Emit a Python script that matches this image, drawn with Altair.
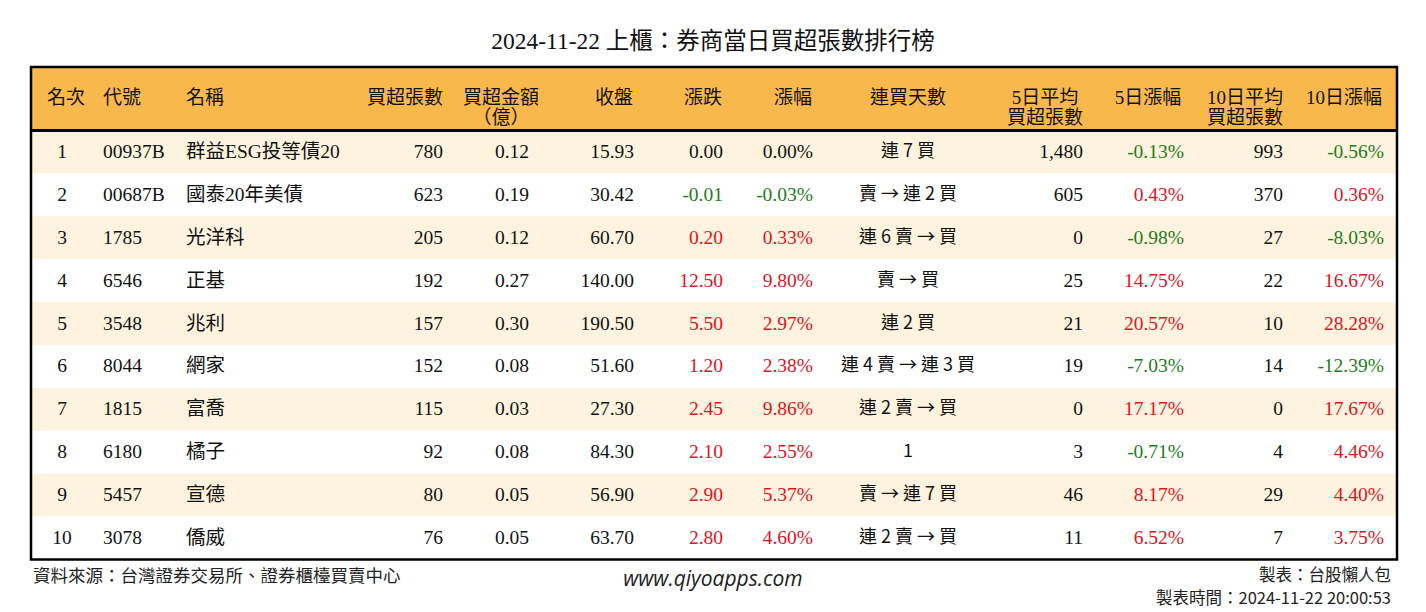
import altair as alt
import pandas as pd

# ---------------- data ----------------
title_text = "2024-11-22 上櫃：券商當日買超張數排行榜"
headers = ["名次", "代號", "名稱", "買超張數", "買超金額\n（億）", "收盤", "漲跌", "漲幅",
           "連買天數", "5日平均\n買超張數", "5日漲幅", "10日平均\n買超張數", "10日漲幅"]
rank = [1, 2, 3, 4, 5, 6, 7, 8, 9, 10]
code = ["00937B", "00687B", "1785", "6546", "3548", "8044", "1815", "6180", "5457", "3078"]
name = ["群益ESG投等債20", "國泰20年美債", "光洋科", "正基", "兆利", "網家", "富喬", "橘子", "宣德", "僑威"]
net_lots = [780, 623, 205, 192, 157, 152, 115, 92, 80, 76]
amount = [0.12, 0.19, 0.12, 0.27, 0.30, 0.08, 0.03, 0.08, 0.05, 0.05]
close = [15.93, 30.42, 60.70, 140.00, 190.50, 51.60, 27.30, 84.30, 56.90, 63.70]
change = [0.00, -0.01, 0.20, 12.50, 5.50, 1.20, 2.45, 2.10, 2.90, 2.80]
pct = [0.00, -0.03, 0.33, 9.80, 2.97, 2.38, 9.86, 2.55, 5.37, 4.60]
streak = ["連 7 買", "賣 → 連 2 買", "連 6 賣 → 買", "賣 → 買", "連 2 買",
          "連 4 賣 → 連 3 買", "連 2 賣 → 買", "1", "賣 → 連 7 買", "連 2 賣 → 買"]
avg5 = [1480, 605, 0, 25, 21, 19, 0, 3, 46, 11]
pct5 = [-0.13, 0.43, -0.98, 14.75, 20.57, -7.03, 17.17, -0.71, 8.17, 6.52]
avg10 = [993, 370, 27, 22, 10, 14, 0, 4, 29, 7]
pct10 = [-0.56, 0.36, -8.03, 16.67, 28.28, -12.39, 17.67, 4.46, 4.40, 3.75]
footer_left = "資料來源：台灣證券交易所、證券櫃檯買賣中心"
footer_mid = "www.qiyoapps.com"
footer_right1 = "製表：台股懶人包"
footer_right2 = "製表時間：2024-11-22 20:00:53"

# ---------------- layout / style ----------------
W, H = 1410, 604
TABLE_L, TABLE_R = 23, 1389
HEADER_TOP = -0.98
HEADER_Y = -0.26
header_x = [58, 114, 197, 397, 493, 606, 695, 785, 900, 1037, 1140, 1237, 1336]
body_x = [54, 95, 178, 435, 521, 626, 715, 805, 900, 1075, 1176, 1275, 1376]
body_align = ["center", "left", "left", "right", "right", "right", "right", "right",
              "center", "right", "right", "right", "right"]
RED, GREEN, BLACK = "#E3121F", "#1D7B1D", "#111111"
ORANGE, CREAM, WHITE = "#F9B84B", "#FEF3DE", "#FFFFFF"
SERIF = "Liberation Serif, 'Noto Sans CJK TC'"
SANS = "'Noto Sans CJK TC', 'Noto Sans'"
STREAK_COL = 8


def sign_color(v):
    if v > 0:
        return RED
    if v < 0:
        return GREEN
    return BLACK


cells = []
for i in range(10):
    r = rank[i]
    vals = [
        (str(rank[i]), BLACK),
        (code[i], BLACK),
        (name[i], BLACK),
        (f"{net_lots[i]:,}", BLACK),
        (f"{amount[i]:.2f}", BLACK),
        (f"{close[i]:.2f}", BLACK),
        (f"{change[i]:.2f}", sign_color(change[i])),
        (f"{pct[i]:.2f}%", sign_color(pct[i])),
        (streak[i], BLACK),
        (f"{avg5[i]:,}", BLACK),
        (f"{pct5[i]:.2f}%", sign_color(pct5[i])),
        (f"{avg10[i]:,}", BLACK),
        (f"{pct10[i]:.2f}%", sign_color(pct10[i])),
    ]
    for c, (t, col) in enumerate(vals):
        cells.append({"row": r, "col": c, "x": body_x[c], "text": t, "color": col,
                      "align": body_align[c]})
cells_df = pd.DataFrame(cells)

head_df = pd.DataFrame({"x": header_x, "row": [HEADER_Y] * len(headers),
                        "text": [h.split("\n") for h in headers]})

rows_df = pd.DataFrame({
    "y": [r - 0.5 for r in rank], "y2": [r + 0.5 for r in rank],
    "x": [TABLE_L] * 10, "x2": [TABLE_R] * 10,
    "fill": [CREAM if r % 2 == 1 else WHITE for r in rank],
})
frame_df = pd.DataFrame({"y": [HEADER_TOP], "y2": [10.5], "x": [TABLE_L], "x2": [TABLE_R]})
header_df = pd.DataFrame({"y": [HEADER_TOP], "y2": [0.5], "x": [TABLE_L], "x2": [TABLE_R]})
line_df = pd.DataFrame({"y": [0.5], "x": [TABLE_L], "x2": [TABLE_R]})

xs = alt.Scale(domain=[0, W], range=[0, W], zero=False, nice=False)
ys = alt.Scale(domain=[1, 10], range=[144, 530], zero=False, nice=False)
X = lambda f: alt.X(f, type="quantitative", scale=xs, axis=None)
Y = lambda f: alt.Y(f, type="quantitative", scale=ys, axis=None)

row_rects = alt.Chart(rows_df).mark_rect().encode(
    x=X("x"), x2="x2", y=Y("y"), y2="y2",
    fill=alt.Fill("fill:N", scale=None))
header_rect = alt.Chart(header_df).mark_rect(color=ORANGE).encode(
    x=X("x"), x2="x2", y=Y("y"), y2="y2")
header_line = alt.Chart(line_df).mark_rule(color="#000000", strokeWidth=3).encode(
    x=X("x"), x2="x2", y=Y("y"))
frame = alt.Chart(frame_df).mark_rect(fill=None, stroke="#000000", strokeWidth=2.5).encode(
    x=X("x"), x2="x2", y=Y("y"), y2="y2")

head_text = alt.Chart(head_df).mark_text(
    font=SERIF, fontSize=19, color=BLACK, align="center", baseline="middle", lineHeight=20
).encode(x=X("x"), y=Y("row"), text="text")

body_layers = []
for a in ["left", "center", "right"]:
    body_layers.append(
        alt.Chart(cells_df).transform_filter(
            (alt.datum.align == a) & (alt.datum.col != STREAK_COL)
        ).mark_text(
            font=SERIF, fontSize=19.5, align=a, baseline="middle"
        ).encode(x=X("x"), y=Y("row"), text="text:N", color=alt.Color("color:N", scale=None))
    )
streak_layer = alt.Chart(cells_df).transform_filter(alt.datum.col == STREAK_COL).mark_text(
    font=SANS, fontSize=18, align="center", baseline="middle"
).encode(x=X("x"), y=Y("row"), text="text:N", color=alt.Color("color:N", scale=None))

title = alt.Chart(pd.DataFrame({"t": [title_text]})).mark_text(
    font=SERIF, fontSize=23.5, color=BLACK, align="center", baseline="middle"
).encode(x=alt.value(705), y=alt.value(34), text="t:N")

f_left = alt.Chart(pd.DataFrame({"t": [footer_left]})).mark_text(
    font=SANS, fontSize=17.5, color="#222222", align="left", baseline="middle"
).encode(x=alt.value(25), y=alt.value(569), text="t:N")
f_mid = alt.Chart(pd.DataFrame({"t": [footer_mid]})).mark_text(
    font="'Open Sans'", fontSize=21, fontStyle="italic", color="#222222", align="center",
    baseline="middle"
).encode(x=alt.value(705), y=alt.value(572), text="t:N")
f_r1 = alt.Chart(pd.DataFrame({"t": [footer_right1]})).mark_text(
    font=SANS, fontSize=16.5, color="#222222", align="right", baseline="middle"
).encode(x=alt.value(1383), y=alt.value(568), text="t:N")
f_r2 = alt.Chart(pd.DataFrame({"t": [footer_right2]})).mark_text(
    font=SANS, fontSize=16.5, color="#222222", align="right", baseline="middle"
).encode(x=alt.value(1383), y=alt.value(591), text="t:N")

chart = alt.layer(
    row_rects, header_rect, header_line, frame, head_text, *body_layers, streak_layer,
    title, f_left, f_mid, f_r1, f_r2
).properties(
    width=W, height=H, autosize=alt.AutoSizeParams(type="none"), padding=0,
    background="white"
).configure_view(stroke=None)

chart.save("out.html", embed_options={"renderer": "svg", "actions": False})
